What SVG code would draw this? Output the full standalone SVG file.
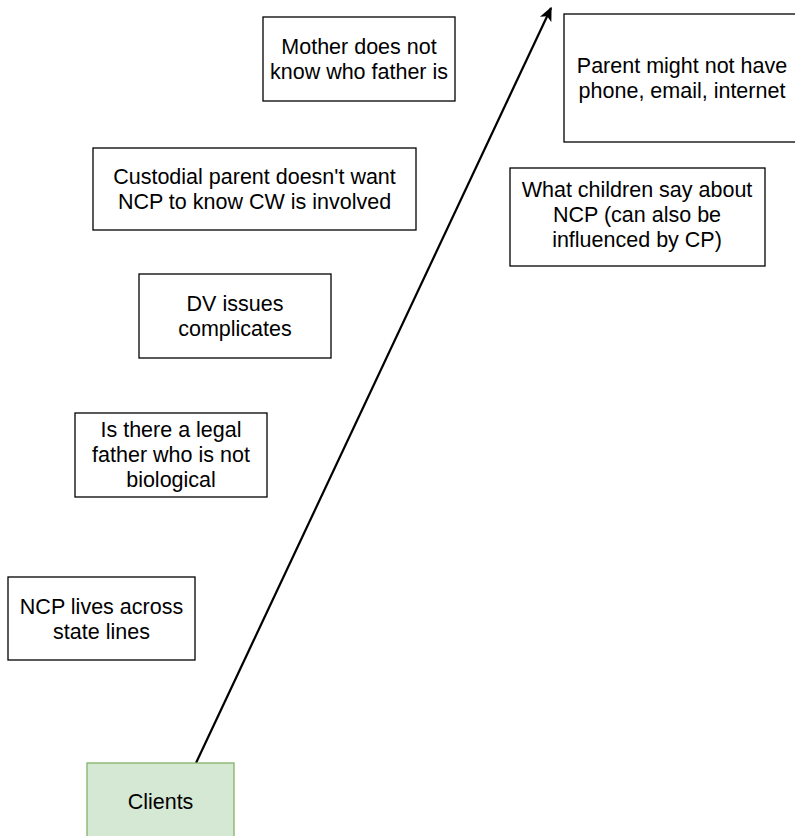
<svg xmlns="http://www.w3.org/2000/svg" width="795" height="836" viewBox="0 0 795 836">
<style>
.box{fill:#ffffff;stroke:#000000;stroke-width:1.3}
.green{fill:#d5e8d4;stroke:#82b366;stroke-width:1.3}
text{font-family:"Liberation Sans",Arial,sans-serif;font-size:21.5px;fill:#000000;text-anchor:middle}
.edge{fill:none;stroke:#000000;stroke-width:2.2}
</style>
<defs>
<marker id="arr" markerWidth="14" markerHeight="14" refX="9" refY="5" orient="auto" markerUnits="userSpaceOnUse" viewBox="0 0 10 10">
<path d="M0,0.5 L10,5 L0,9.5 L2.5,5 Z" fill="#000000"/>
</marker>
</defs>
<rect width="795" height="836" fill="#ffffff"/>
<g id="connectors">
<line class="edge" x1="196" y1="763" x2="551" y2="8" marker-end="url(#arr)"/>
</g>
<g id="mother">
<rect class="box" x="263" y="17" width="192" height="84"/>
<text x="359" y="54">Mother does not</text>
<text x="359" y="79">know who father is</text>
</g>
<g id="parent">
<rect class="box" x="564" y="14" width="240" height="128"/>
<text x="682" y="73">Parent might not have</text>
<text x="682" y="98">phone, email, internet</text>
</g>
<g id="children">
<rect class="box" x="510" y="168" width="255" height="98"/>
<text x="637" y="197">What children say about</text>
<text x="637" y="222">NCP (can also be</text>
<text x="637" y="247">influenced by CP)</text>
</g>
<g id="custodial">
<rect class="box" x="93" y="148" width="323" height="82"/>
<text x="254.5" y="184">Custodial parent doesn't want</text>
<text x="254.5" y="209">NCP to know CW is involved</text>
</g>
<g id="dv">
<rect class="box" x="139" y="274" width="192" height="84"/>
<text x="235" y="311">DV issues</text>
<text x="235" y="336">complicates</text>
</g>
<g id="legal">
<rect class="box" x="75" y="413" width="192" height="84"/>
<text x="171" y="437">Is there a legal</text>
<text x="171" y="462">father who is not</text>
<text x="171" y="487">biological</text>
</g>
<g id="ncp">
<rect class="box" x="8" y="577" width="187" height="83"/>
<text x="101.5" y="614">NCP lives across</text>
<text x="101.5" y="639">state lines</text>
</g>
<g id="clients">
<rect class="green" x="87" y="763" width="147" height="80"/>
<text x="160.5" y="809">Clients</text>
</g>
</svg>
